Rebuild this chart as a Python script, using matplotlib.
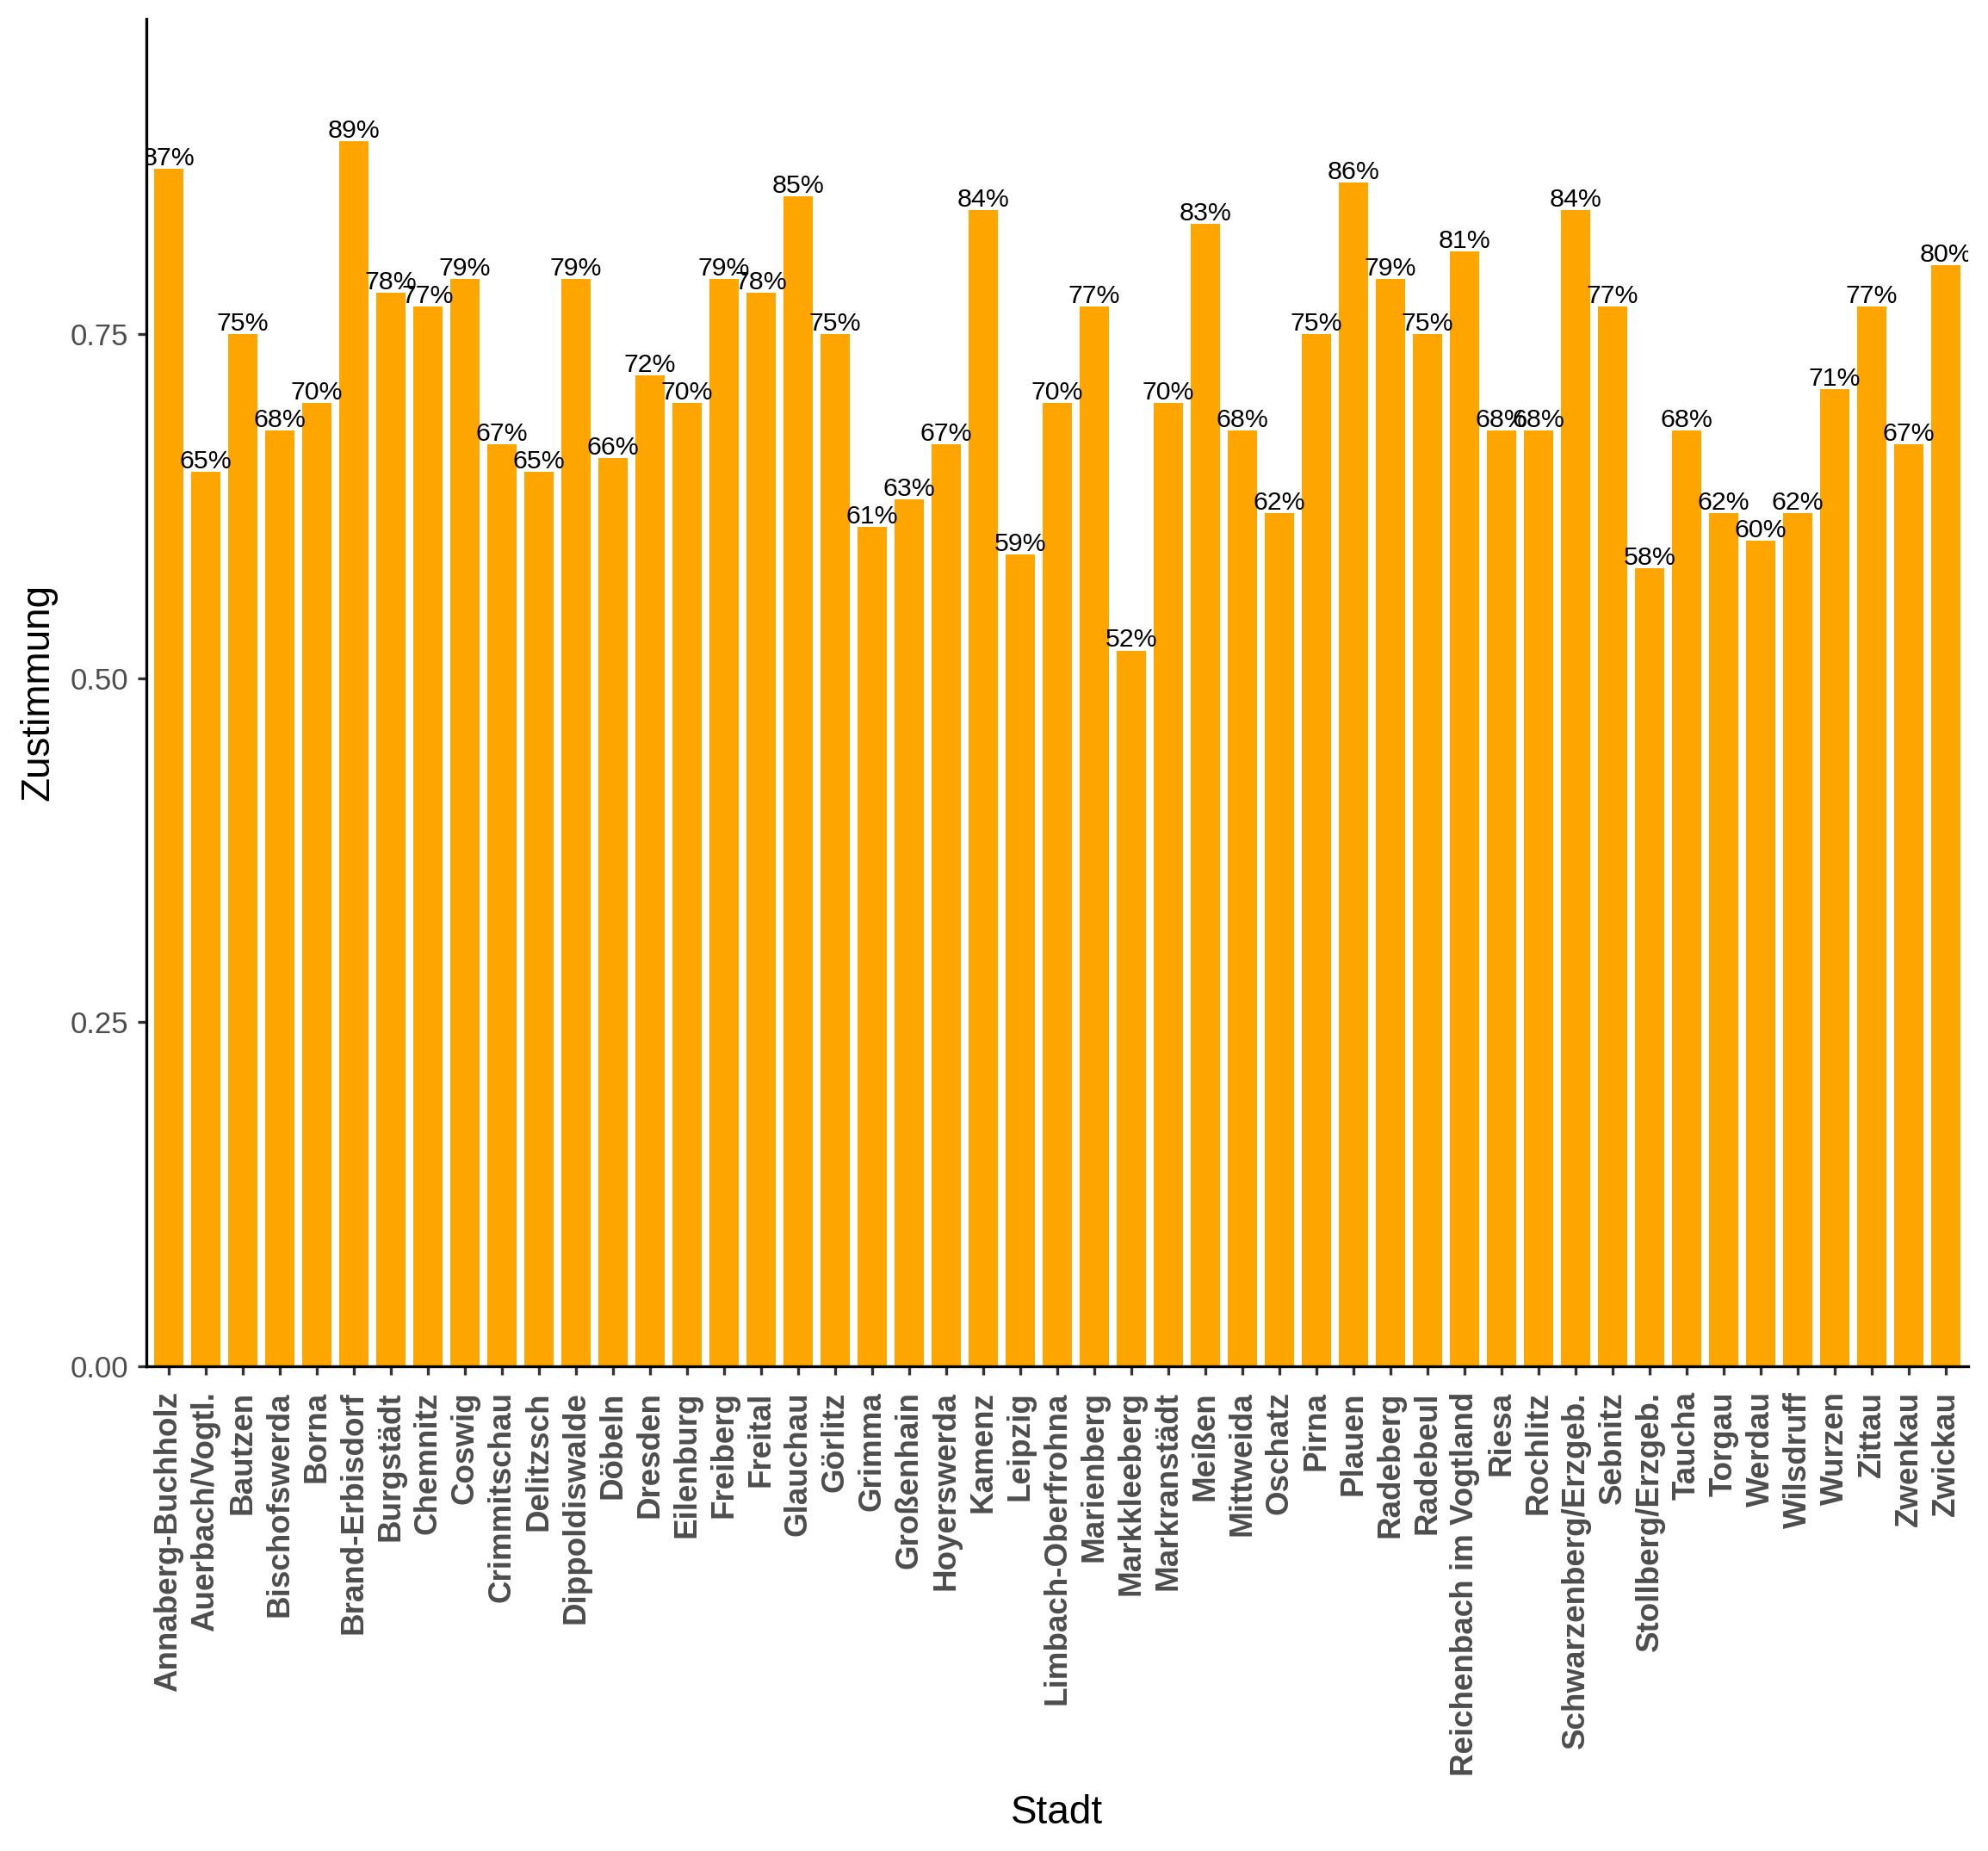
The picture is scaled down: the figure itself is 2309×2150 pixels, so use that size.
import matplotlib
matplotlib.use("Agg")
import matplotlib.pyplot as plt
import numpy as np

plt.rcParams['font.family'] = ['Liberation Sans', 'DejaVu Sans']

staedte = ["Annaberg-Buchholz", "Auerbach/Vogtl.", "Bautzen", "Bischofswerda", "Borna",
           "Brand-Erbisdorf", "Burgstädt", "Chemnitz", "Coswig", "Crimmitschau", "Delitzsch",
           "Dippoldiswalde", "Döbeln", "Dresden", "Eilenburg", "Freiberg", "Freital", "Glauchau",
           "Görlitz", "Grimma", "Großenhain", "Hoyerswerda", "Kamenz", "Leipzig",
           "Limbach-Oberfrohna", "Marienberg", "Markkleeberg", "Markranstädt", "Meißen",
           "Mittweida", "Oschatz", "Pirna", "Plauen", "Radeberg", "Radebeul",
           "Reichenbach im Vogtland", "Riesa", "Rochlitz", "Schwarzenberg/Erzgeb.", "Sebnitz",
           "Stollberg/Erzgeb.", "Taucha", "Torgau", "Werdau", "Wilsdruff", "Wurzen", "Zittau",
           "Zwenkau", "Zwickau"]
zustimmung = [0.87, 0.65, 0.75, 0.68, 0.70, 0.89, 0.78, 0.77, 0.79, 0.67, 0.65, 0.79, 0.66,
              0.72, 0.70, 0.79, 0.78, 0.85, 0.75, 0.61, 0.63, 0.67, 0.84, 0.59, 0.70, 0.77,
              0.52, 0.70, 0.83, 0.68, 0.62, 0.75, 0.86, 0.79, 0.75, 0.81, 0.68, 0.68, 0.84,
              0.77, 0.58, 0.68, 0.62, 0.60, 0.62, 0.71, 0.77, 0.67, 0.80]
y_ticks = [0.00, 0.25, 0.50, 0.75]

W, H = 2309, 2150
fig = plt.figure(figsize=(W / 100, H / 100), dpi=100)
left, right = 170 / W, 2286 / W
bottom, top = 1 - 1586.7 / H, 1 - 22 / H
ax = fig.add_axes([left, bottom, right - left, top - bottom])

x = np.arange(len(staedte))
ax.bar(x, zustimmung, width=0.78, color="#FFA500", linewidth=0)
for xi, v in zip(x, zustimmung):
    ax.annotate(f"{round(v * 100)}%", (xi, v), xytext=(0, 3), textcoords="offset points",
                ha="center", va="baseline", fontsize=21.8, color="black",
                annotation_clip=False, clip_on=True)

ax.set_xlim(-0.6, len(staedte) - 1 + 0.6)
ax.set_ylim(0, max(zustimmung) * 1.1)

ax.set_xticks(x)
ax.set_xticklabels(staedte, rotation=90, fontsize=26.5, fontweight="bold", color="#4D4D4D")
ax.set_yticks(y_ticks)
ax.set_yticklabels([f"{t:.2f}" for t in y_ticks], fontsize=25, color="#4D4D4D")

ax.tick_params(axis="both", direction="out", length=7.2, width=2.4, color="#333333")
ax.tick_params(axis="x", pad=14)
ax.tick_params(axis="y", pad=8)

for s in ["top", "right"]:
    ax.spines[s].set_visible(False)
for s in ["left", "bottom"]:
    ax.spines[s].set_linewidth(2.4)
    ax.spines[s].set_color("black")

ax.set_xlabel("Stadt", fontsize=33, color="black", va="baseline")
ax.xaxis.set_label_coords(0.5, (1586.7 - 2118) / (1586.7 - 22))
ax.set_ylabel("Zustimmung", fontsize=33, color="black", va="center")
ax.yaxis.set_label_coords((45 - 170) / (2286 - 170), 0.5)

fig.savefig("out.png", dpi=100, facecolor="white")
